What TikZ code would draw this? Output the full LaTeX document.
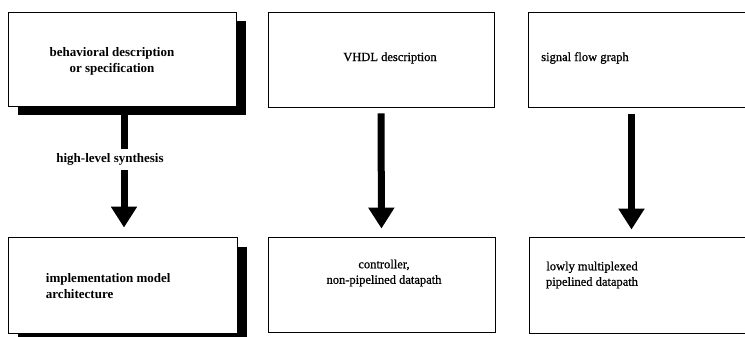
\documentclass[tikz,border=0pt]{standalone}
\usepackage{fontspec}
\setmainfont{Liberation Serif}
\newfontfamily\scanfont[FakeBold=0.8]{Liberation Serif}
\usetikzlibrary{arrows.meta,shadows}

\begin{document}
\begin{tikzpicture}[x=1pt,y=1pt,yscale=-1,
  box/.style={draw,line width=0.9pt,fill=white,inner sep=0pt},
  shadowbox/.style={box,drop shadow={shadow xshift=9.5pt,shadow yshift=-9.5pt,fill=black,opacity=1}},
  txt/.style={inner sep=0.75pt,align=center,font=\scanfont\fontsize{12.5}{15.5}\selectfont},
  bigtxt/.style={inner sep=0.75pt,font=\fontsize{13}{16}\selectfont\bfseries},
  fat/.style={line width=7pt},
  fatarrow/.style={fat,-{Triangle[width=25pt,length=21pt]}}]
\clip (0,0) rectangle (745,337);
\fill[white] (0,0) rectangle (745,337);

%Shape: Rectangle [left column]
\node[shadowbox,minimum width=228,minimum height=94] (bhv) at (122,59) {};
\node[shadowbox,minimum width=229,minimum height=96] (impl) at (122.5,285) {};
%Shape: Rectangle [middle column]
\node[box,minimum width=226,minimum height=95] (vhdl) at (381,59.5) {};
\node[box,minimum width=227,minimum height=95] (ctrl) at (381.5,284.5) {};
%Shape: Rectangle [right column]
\node[box,minimum width=232,minimum height=95] (sfg) at (644,59.5) {};
\node[box,minimum width=232,minimum height=96] (pipe) at (645,285) {};

% Text Node
\node[bigtxt,align=center] (bhvtxt) at (112,61) {behavioral description\\or specification};
% Text Node
\node[bigtxt,align=left,anchor=west] (impltxt) at (45,286) {implementation model\\architecture};
% Text Node
\node[txt] (vhdltxt) at (390,58) {VHDL description};
% Text Node
\node[txt] (ctrltxt) at (384,273) {controller,\\non-pipelined datapath};
% Text Node
\node[txt] (sfgtxt) at (585,58) {signal flow graph};
% Text Node
\node[txt] (pipetxt) at (592,275) {lowly multiplexed\\pipelined datapath};

%Straight Lines
\node[bigtxt,inner ysep=4.5pt] (hls) at (110,159.5) {high-level synthesis};
\draw[fat] ([xshift=2pt]bhv.south) -- ([xshift=2pt]bhv.south |- hls.north);
\draw[fatarrow,shorten >=9pt] ([xshift=2pt]bhv.south |- hls.south) -- ([xshift=1.5pt]impl.north);
\draw[fatarrow,shorten <=6pt,shorten >=8pt] (vhdl.south) -- (ctrl.north);
\draw[fatarrow,shorten <=6.5pt,shorten >=7pt] ([xshift=-12.5pt]sfg.south) -- ([xshift=-13.5pt]pipe.north);

\end{tikzpicture}
\end{document}
